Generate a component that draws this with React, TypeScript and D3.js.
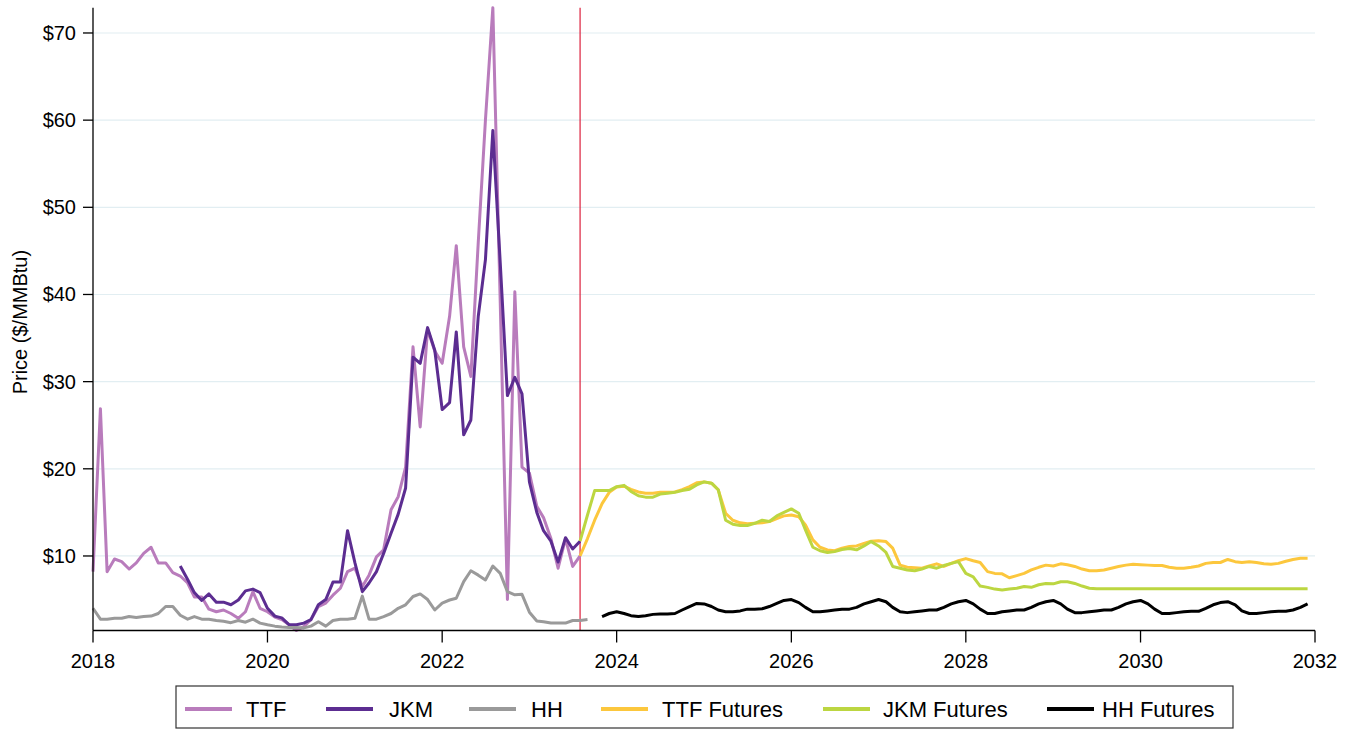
import React from "react";
import * as d3 from "d3";

// ---- Data (monthly) ----
const ttfStart = new Date(2018, 0, 1);
const ttfValues = [
  8.2, 26.9, 8.2, 9.65, 9.35, 8.5, 9.2, 10.3, 11.0, 9.2, 9.2, 8.1,
  7.7, 6.9, 5.3, 5.3, 3.9, 3.6, 3.8, 3.4, 2.85, 3.6, 5.9, 4.0,
  3.6, 3.0, 2.7, 2.1, 1.45, 1.9, 2.7, 4.2, 4.6, 5.5, 6.3, 8.2,
  8.6, 6.5, 7.8, 9.9, 10.7, 15.3, 16.8, 20.2, 34.0, 24.8, 36.0, 33.5,
  32.1, 37.5, 45.6, 34.0, 30.6, 46.0, 60.0, 72.9, 39.0, 5.0, 40.3, 20.2,
  19.5, 15.7, 14.4, 12.0, 8.6, 12.0, 8.8, 10.0,
];

const jkmStart = new Date(2019, 0, 1);
const jkmValues = [
  8.85, 7.3, 5.8, 4.9, 5.65, 4.7, 4.7, 4.4, 4.95, 6.0, 6.2, 5.8,
  4.0, 3.1, 2.9, 2.1, 2.1, 2.3, 2.7, 4.4, 5.0, 7.0, 7.0, 12.9,
  9.2, 5.9, 6.9, 8.2, 10.3, 12.6, 14.8, 17.8, 32.8, 32.1, 36.2, 33.6,
  26.8, 27.6, 35.7, 23.9, 25.6, 37.5, 44.0, 58.8, 43.6, 28.4, 30.5, 28.6,
  18.5, 15.0, 12.9, 11.7, 9.3, 12.1, 10.8, 11.7,
];

const hhStart = new Date(2018, 0, 1);
const hhValues = [
  4.0, 2.75, 2.75, 2.85, 2.85, 3.05, 2.95, 3.05, 3.1, 3.4, 4.2, 4.2,
  3.2, 2.75, 3.05, 2.75, 2.75, 2.6, 2.5, 2.35, 2.6, 2.4, 2.75, 2.3,
  2.1, 1.95, 1.85, 1.8, 1.8, 1.75, 1.95, 2.45, 1.95, 2.6, 2.75, 2.75,
  2.85, 5.4, 2.75, 2.75, 3.05, 3.4, 4.0, 4.4, 5.35, 5.65, 5.0, 3.8,
  4.6, 4.95, 5.15, 7.05, 8.3, 7.8, 7.25, 8.85, 8.0, 5.9, 5.55, 5.6,
  3.55, 2.55, 2.45, 2.3, 2.3, 2.3, 2.6, 2.6, 2.7,
];

const ttfFutStart = new Date(2023, 7, 1);
const ttfFutValues = [
  10.0, 12.0, 14.1, 16.0, 17.3,
  17.9, 18.0, 17.65, 17.35, 17.2, 17.2, 17.3, 17.3, 17.35, 17.6, 17.95, 18.4,
  18.5, 18.35, 17.6, 14.9, 14.1, 13.8, 13.7, 13.75, 13.8, 13.95, 14.3, 14.6,
  14.7, 14.5, 13.55, 11.85, 11.0, 10.7, 10.6, 10.9, 11.1, 11.15, 11.45, 11.7,
  11.75, 11.65, 10.9, 8.95, 8.7, 8.65, 8.6, 8.85, 9.1, 8.8, 9.15, 9.45,
  9.7, 9.45, 9.25, 8.2, 8.0, 7.95, 7.5, 7.75, 8.0, 8.4, 8.7, 8.95,
  8.85, 9.1, 9.0, 8.8, 8.5, 8.3, 8.3, 8.4, 8.6, 8.8, 8.95, 9.05,
  9.0, 8.95, 8.9, 8.9, 8.7, 8.6, 8.6, 8.7, 8.85, 9.15, 9.25, 9.25,
  9.6, 9.35, 9.25, 9.35, 9.25, 9.1, 9.05, 9.15, 9.4, 9.6, 9.75, 9.75,
];

const jkmFutStart = new Date(2023, 7, 1);
const jkmFutValues = [
  11.7, 14.7, 17.5, 17.5, 17.5,
  17.95, 18.1, 17.4, 16.9, 16.75, 16.75, 17.1, 17.2, 17.3, 17.5, 17.65, 18.15,
  18.5, 18.35, 17.6, 14.1, 13.65, 13.5, 13.5, 13.75, 14.1, 13.95, 14.6, 15.0,
  15.4, 14.9, 13.0, 11.0, 10.6, 10.4, 10.5, 10.75, 10.85, 10.7, 11.15, 11.65,
  11.15, 10.4, 8.8, 8.6, 8.4, 8.3, 8.5, 8.8, 8.6, 8.9, 9.15, 9.35,
  8.0, 7.6, 6.55, 6.4, 6.2, 6.1, 6.2, 6.3, 6.5, 6.4, 6.7, 6.85,
  6.8, 7.05, 7.05, 6.85, 6.55, 6.3, 6.25, 6.25, 6.25, 6.25, 6.25, 6.25,
  6.25, 6.25, 6.25, 6.25, 6.25, 6.25, 6.25, 6.25, 6.25, 6.25, 6.25, 6.25,
  6.25, 6.25, 6.25, 6.25, 6.25, 6.25, 6.25, 6.25, 6.25, 6.25, 6.25, 6.25,
];

const hhFutStart = new Date(2023, 10, 1);
const hhFutValues = [
  3.05, 3.4,
  3.6, 3.4, 3.15, 3.05, 3.15, 3.3, 3.35, 3.35, 3.4, 3.8, 4.2, 4.55,
  4.5, 4.2, 3.8, 3.6, 3.6, 3.7, 3.9, 3.9, 3.95, 4.2, 4.55, 4.9,
  5.0, 4.65, 4.1, 3.6, 3.6, 3.7, 3.8, 3.9, 3.9, 4.1, 4.5, 4.75,
  5.0, 4.75, 4.1, 3.6, 3.5, 3.6, 3.7, 3.8, 3.8, 4.1, 4.5, 4.75,
  4.9, 4.5, 3.9, 3.4, 3.4, 3.6, 3.7, 3.8, 3.8, 4.1, 4.5, 4.75,
  4.9, 4.5, 3.9, 3.5, 3.5, 3.6, 3.7, 3.8, 3.8, 4.1, 4.5, 4.75,
  4.9, 4.5, 3.9, 3.4, 3.4, 3.5, 3.6, 3.65, 3.65, 4.0, 4.4, 4.65,
  4.75, 4.4, 3.7, 3.4, 3.4, 3.5, 3.6, 3.65, 3.65, 3.8, 4.1, 4.5,
];

const yTicks = [10, 20, 30, 40, 50, 60, 70];
const xTickYears = [2018, 2020, 2022, 2024, 2026, 2028, 2030, 2032];
const forecastDate = new Date(2023, 7, 1);

const seriesNames = ["TTF", "JKM", "HH", "TTF Futures", "JKM Futures", "HH Futures"];
const seriesColors = ["#b97cbc", "#5c2d91", "#9a9a9a", "#fcc73d", "#bcd641", "#000000"];

type Pt = { d: Date; v: number };
const toPoints = (start: Date, vals: number[]): Pt[] =>
  vals.map((v, i) => ({ d: d3.timeMonth.offset(start, i), v }));

const seriesData: Pt[][] = [
  toPoints(ttfStart, ttfValues),
  toPoints(jkmStart, jkmValues),
  toPoints(hhStart, hhValues),
  toPoints(ttfFutStart, ttfFutValues),
  toPoints(jkmFutStart, jkmFutValues),
  toPoints(hhFutStart, hhFutValues),
];

const legendSwatchX = [185, 326, 469, 601, 823, 1047];
const legendTextX = [246, 389, 531, 662, 883, 1102];

const FONT = "'Liberation Sans', Arial, Helvetica, sans-serif";

export default function App() {
  const x = d3
    .scaleTime()
    .domain([new Date(2018, 0, 1), new Date(2032, 0, 1)])
    .range([93, 1315]);
  const y = d3.scaleLinear().domain([1.45, 72.9]).range([630.5, 7.7]);
  const line = d3
    .line<Pt>()
    .x((p) => x(p.d))
    .y((p) => y(p.v));

  const x0 = x.range()[0];
  const x1 = x.range()[1];
  const yBottom = y(1.45);
  const yTop = y(72.9);

  return (
    <svg
      width={1356}
      height={729}
      style={{ position: "absolute", left: 0, top: 0, background: "#fff" }}
      fontFamily={FONT}
    >
      <rect x={0} y={0} width={1356} height={729} fill="#fff" />
      {/* gridlines */}
      {yTicks.map((t) => (
        <line key={"g" + t} x1={x0} x2={x1} y1={y(t)} y2={y(t)} stroke="#e2eef2" strokeWidth={1.2} />
      ))}
      {/* forecast line */}
      <line
        x1={x(forecastDate)}
        x2={x(forecastDate)}
        y1={yTop}
        y2={yBottom}
        stroke="#dc1f3c"
        strokeWidth={1.2}
      />
      {/* series */}
      {seriesData.map((pts, i) => (
        <path
          key={seriesNames[i]}
          d={line(pts) || ""}
          fill="none"
          stroke={seriesColors[i]}
          strokeWidth={3}
          strokeLinejoin="round"
        />
      ))}
      {/* y axis */}
      <line x1={x0} x2={x0} y1={yTop} y2={yBottom} stroke="#000" strokeWidth={1.3} />
      {yTicks.map((t) => (
        <g key={"y" + t}>
          <line x1={x0 - 10} x2={x0} y1={y(t)} y2={y(t)} stroke="#000" strokeWidth={1.3} />
          <text x={x0 - 17} y={y(t)} textAnchor="end" dominantBaseline="central" fontSize={20} fill="#000">
            {"$" + t}
          </text>
        </g>
      ))}
      <text
        transform={`translate(20,${(yTop + yBottom) / 2 + 3}) rotate(-90)`}
        textAnchor="middle"
        dominantBaseline="central"
        fontSize={20}
        fill="#000"
      >
        Price ($/MMBtu)
      </text>
      {/* x axis */}
      <line x1={x0} x2={x1} y1={yBottom} y2={yBottom} stroke="#000" strokeWidth={1.3} />
      {xTickYears.map((yr) => {
        const xx = x(new Date(yr, 0, 1));
        return (
          <g key={"x" + yr}>
            <line x1={xx} x2={xx} y1={yBottom} y2={yBottom + 12} stroke="#000" strokeWidth={1.3} />
            <text x={xx} y={yBottom + 37} textAnchor="middle" fontSize={20} fill="#000">
              {yr}
            </text>
          </g>
        );
      })}
      {/* legend */}
      <rect x={176} y={686} width={1057} height={42} fill="#fff" stroke="#333" strokeWidth={1.2} />
      {seriesNames.map((n, i) => (
        <g key={"l" + n}>
          <line
            x1={legendSwatchX[i]}
            x2={legendSwatchX[i] + 47}
            y1={709}
            y2={709}
            stroke={seriesColors[i]}
            strokeWidth={4}
          />
          <text x={legendTextX[i]} y={716.5} fontSize={22} fill="#000">
            {n}
          </text>
        </g>
      ))}
    </svg>
  );
}
